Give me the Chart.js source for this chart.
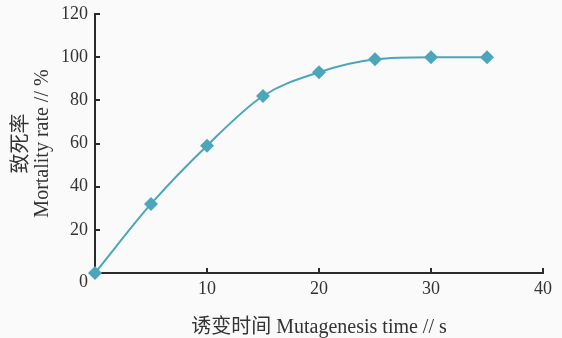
<!DOCTYPE html>
<html>
<head>
<meta charset="utf-8">
<script src="https://cdn.jsdelivr.net/npm/chart.js@4.4.0/dist/chart.umd.min.js"></script>
<style>
  html, body { margin: 0; padding: 0; background: #fafafa; }
  #wrap { width: 562px; height: 338px; }
</style>
</head>
<body>
<div id="wrap"><canvas id="mortalityChart" width="562" height="338"></canvas></div>
<script>
// Mortality vs mutagenesis time
const times = [0, 5, 10, 15, 20, 25, 30, 35];
const mortality = [0, 32, 59, 82, 93, 99, 100, 100];
const xTicks = [0, 10, 20, 30, 40];
const yTicks = [0, 20, 40, 60, 80, 100, 120];

const lineColor = '#4ba6bb';
const axisColor = '#2b2b2b';
const tickFont = { family: "'Liberation Serif', serif", size: 18, lineHeight: 1.15 };
const titleFont = { family: "'Liberation Serif', 'Noto Sans CJK SC', serif", size: 20, lineHeight: 1.05 };

// shared "0" at the corner of the axes
const originLabel = {
    id: 'originLabel',
    afterDraw(chart) {
        const x = chart.scales.x, y = chart.scales.y;
        const ctx = chart.ctx;
        ctx.save();
        ctx.font = tickFont.size + 'px ' + tickFont.family;
        ctx.fillStyle = '#333';
        ctx.textAlign = 'right';
        ctx.textBaseline = 'middle';
        ctx.fillText('0', x.getPixelForValue(xTicks[0]) - 7, y.getPixelForValue(yTicks[0]) + 9);
        ctx.restore();
    }
};

new Chart(document.getElementById('mortalityChart'), {
    type: 'line',
    data: {
        datasets: [{
            label: '致死率',
            data: times.map(function(t, i) { return { x: t, y: mortality[i] }; }),
            borderColor: lineColor,
            backgroundColor: lineColor,
            borderWidth: 2,
            pointStyle: 'rectRot',
            pointRadius: 7,
            pointBorderWidth: 0,
            cubicInterpolationMode: 'monotone',
            clip: false
        }]
    },
    options: {
        responsive: false,
        animation: false,
        layout: { padding: { top: 14, right: 19, bottom: 0, left: 0 } },
        plugins: {
            legend: { display: false },
            tooltip: { enabled: false }
        },
        scales: {
            x: {
                type: 'linear',
                min: xTicks[0],
                max: xTicks[xTicks.length - 1],
                afterBuildTicks: function(scale) {
                    scale.ticks = xTicks.map(function(v) { return { value: v }; });
                },
                afterFit: function(scale) {
                    scale.height = 65;
                    scale.paddingLeft = 0;
                    scale.paddingRight = 0;
                },
                border: { display: true, color: axisColor, width: 2 },
                grid: { drawOnChartArea: false, drawTicks: true, tickLength: -5, color: axisColor, lineWidth: 2 },
                ticks: {
                    padding: 11,
                    color: '#333',
                    font: tickFont,
                    maxRotation: 0,
                    callback: function(v) { return v === 0 ? '' : v; }
                },
                title: {
                    display: true,
                    text: '诱变时间 Mutagenesis time // s',
                    color: '#333',
                    font: titleFont,
                    padding: { top: 0, bottom: 0 }
                }
            },
            y: {
                min: yTicks[0],
                max: yTicks[yTicks.length - 1],
                afterBuildTicks: function(scale) {
                    scale.ticks = yTicks.map(function(v) { return { value: v }; });
                },
                afterFit: function(scale) {
                    scale.width = 95;
                    scale.paddingTop = 0;
                    scale.paddingBottom = 0;
                },
                border: { display: true, color: axisColor, width: 2 },
                grid: { drawOnChartArea: false, drawTicks: true, tickLength: -5, color: axisColor, lineWidth: 2 },
                ticks: {
                    padding: 12,
                    color: '#333',
                    font: tickFont,
                    callback: function(v) { return v === 0 ? '' : v; }
                },
                title: {
                    display: true,
                    text: ['致死率', 'Mortality rate // %'],
                    color: '#333',
                    font: titleFont,
                    padding: { top: 11, bottom: 0 }
                }
            }
        }
    },
    plugins: [originLabel]
});
</script>
</body>
</html>
